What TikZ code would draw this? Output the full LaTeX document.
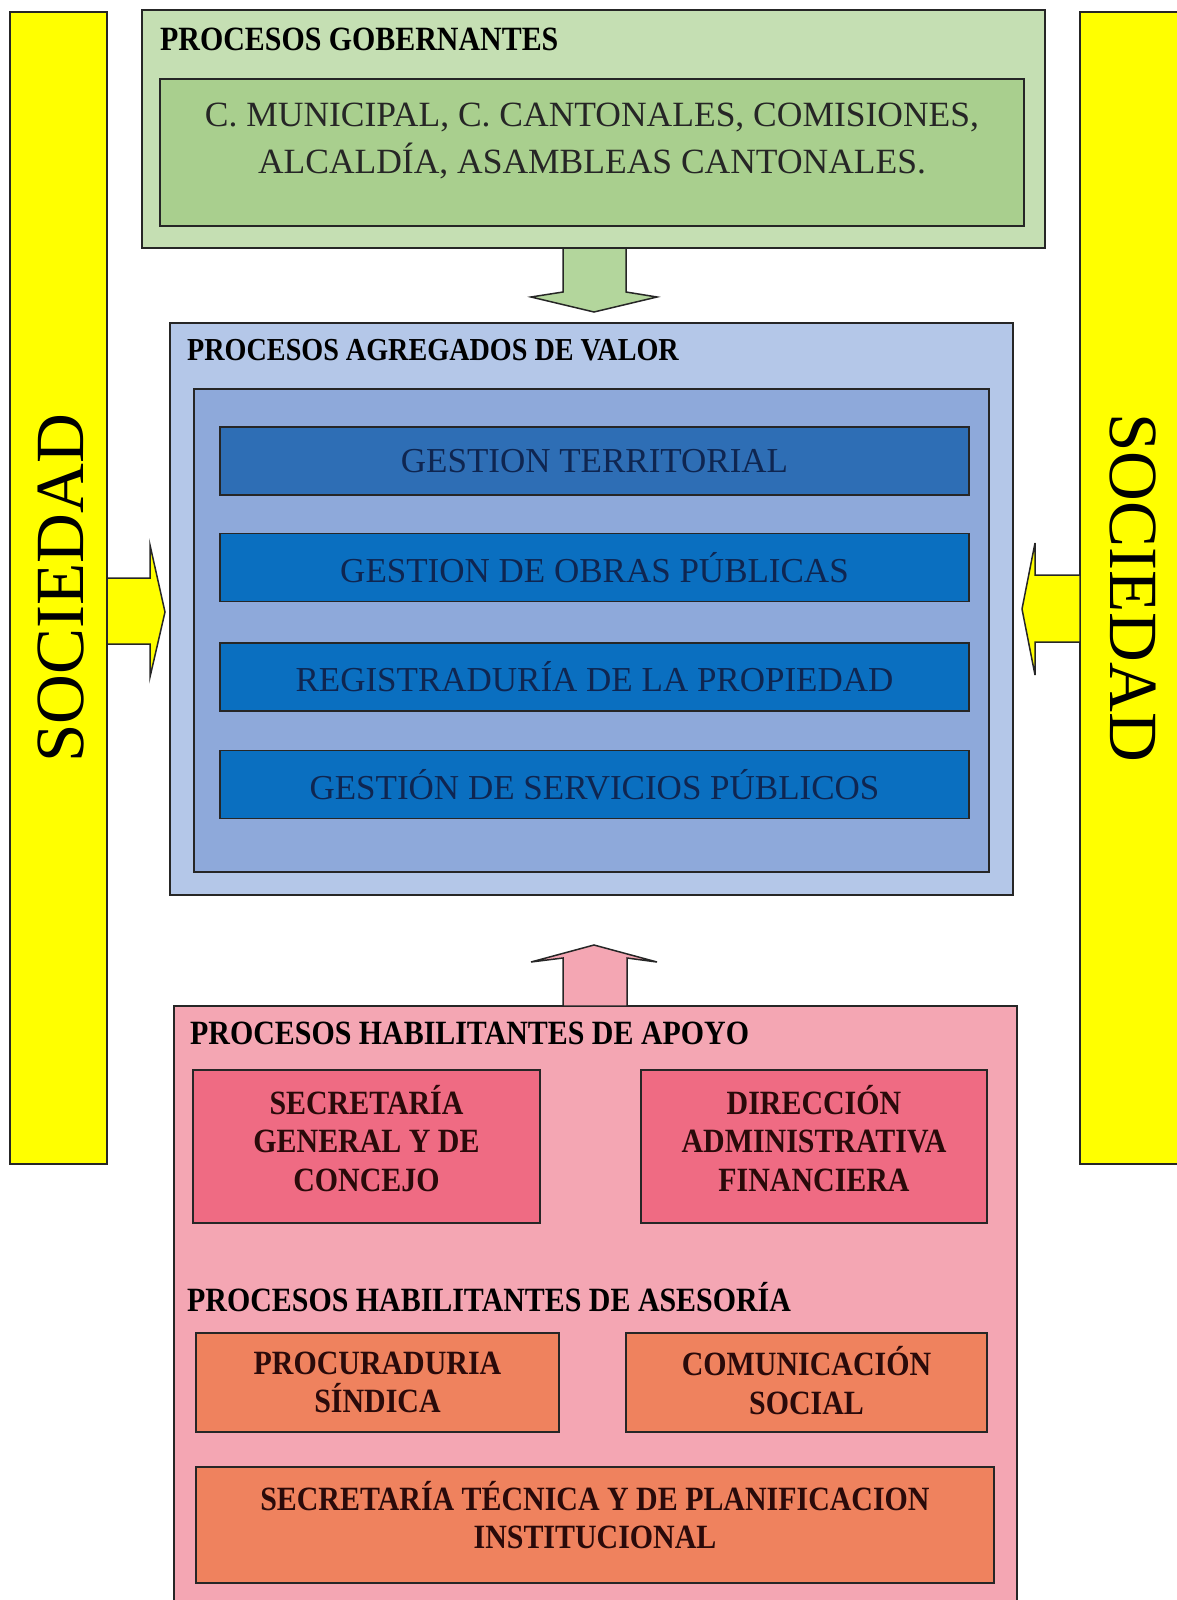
\documentclass[tikz,border=0pt]{standalone}
\usepackage{fontspec}
\setmainfont{Liberation Serif}[BoldFeatures={FakeStretch=0.88}]
\usetikzlibrary{calc}
\definecolor{amarillo}{HTML}{FFFF00}
\definecolor{verdeext}{HTML}{C5DFB3}
\definecolor{verdeint}{HTML}{A9CF8E}
\definecolor{verdeflecha}{HTML}{B3D69C}
\definecolor{azulext}{HTML}{B4C7E8}
\definecolor{azulint}{HTML}{8EA9DA}
\definecolor{azulbarra}{HTML}{0A6FC0}
\definecolor{azulbarrauno}{HTML}{2E6EB5}
\definecolor{textoazul}{HTML}{0F2651}
\definecolor{rosaext}{HTML}{F4A6B3}
\definecolor{rosacaja}{HTML}{EF6B83}
\definecolor{naranja}{HTML}{EF825E}
\definecolor{textorojo}{HTML}{2A0A0A}
\def\letra#1#2{\fontsize{#1}{#2}\selectfont}
\tikzset{
	frame/.style={draw=black!85, line width=1.8pt},
	caja/.style={frame, rectangle, inner sep=0pt, align=center},
	titulo/.style={anchor=west, inner sep=0pt, font=\bfseries\letra{34}{38}},
	barra/.style={caja, fill=azulbarra, minimum width=749pt, minimum height=68pt, text=textoazul, font=\letra{35}{40}},
	cajatxt/.style={inner sep=0pt, align=center, text=textorojo, font=\bfseries\letra{34}{38.5}},
	flecha/.style={draw=black!85, line width=1.5pt, line join=miter},
}

\begin{document}
\begin{tikzpicture}[x=1pt, y=-1pt]
			%%%%% START %%%%%
			\useasboundingbox (0,0) rectangle (1177,1600);
			\clip (0,0) rectangle (1177,1600);
			
			% SOCIEDAD a los lados
			\node[caja, fill=amarillo, minimum width=97pt, minimum height=1152pt] (socizq) at (58.5,588) {};
			\node[rotate=90, inner sep=0pt, font=\letra{69}{80}] (socizqtxt) at (61,588) {SOCIEDAD};
			\node[caja, fill=amarillo, minimum width=110pt, minimum height=1152pt] (socder) at (1135,588) {};
			\node[rotate=-90, inner sep=0pt, font=\letra{69}{80}] (socdertxt) at (1133,588) {SOCIEDAD};
			
			% gobernantes
			\node[caja, fill=verdeext, minimum width=903pt, minimum height=238pt] (gob) at (593.5,129) {};
			\node[titulo] (gobtit) at (160,39) {PROCESOS GOBERNANTES};
			\node[caja, fill=verdeint, minimum width=864pt, minimum height=147pt] (gobin) at (592,152.5) {};
			\node[inner sep=0pt, align=center, text=black!85, font=\letra{35.5}{47}] (gobtxt) at (592,141) {C. MUNICIPAL, C. CANTONALES, COMISIONES,\\ALCALDÍA, ASAMBLEAS CANTONALES.};
			
			% agregados de valor
			\node[caja, fill=azulext, minimum width=843pt, minimum height=572pt] (val) at (591.5,609) {};
			\node[titulo, font=\bfseries\letra{32}{36}] (valtit) at (187,350) {PROCESOS AGREGADOS DE VALOR};
			\node[caja, fill=azulint, minimum width=795pt, minimum height=483pt] (valin) at (591.5,630.5) {};
			\node[barra, fill=azulbarrauno] (territorial) at (594.5,461) {GESTION TERRITORIAL};
			\node[barra] (obras) at (594.5,567.5) {GESTION DE OBRAS PÚBLICAS};
			\node[barra] (registro) at (594.5,677) {REGISTRADURÍA DE LA PROPIEDAD};
			\node[barra] (servicios) at (594.5,784.5) {GESTIÓN DE SERVICIOS PÚBLICOS};
			
			% habilitantes
			\node[caja, fill=rosaext, minimum width=843pt, minimum height=614pt] (hab) at (595.5,1313) {};
			\node[titulo] (apoyotit) at (190,1033) {PROCESOS HABILITANTES DE APOYO};
			\node[caja, fill=rosacaja, minimum width=347pt, minimum height=153pt] (secretaria) at (366.5,1146.5) {};
			\node[cajatxt] (secretariatxt) at ($(secretaria)+(0,-8)$) {SECRETARÍA\\GENERAL Y DE\\CONCEJO};
			\node[caja, fill=rosacaja, minimum width=346pt, minimum height=153pt] (direccion) at (814,1146.5) {};
			\node[cajatxt] (direcciontxt) at ($(direccion)+(0,-8)$) {DIRECCIÓN\\ADMINISTRATIVA\\FINANCIERA};
			\node[titulo] (asesoriatit) at (187,1297) {PROCESOS HABILITANTES DE ASESORÍA};
			\node[caja, fill=naranja, minimum width=363pt, minimum height=99pt] (procuraduria) at (377.5,1382.5) {};
			\node[cajatxt] (procuraduriatxt) at (procuraduria) {PROCURADURIA\\SÍNDICA};
			\node[caja, fill=naranja, minimum width=361pt, minimum height=99pt] (comunicacion) at (806.5,1382.5) {};
			\node[cajatxt] (comunicaciontxt) at ($(comunicacion)+(0,-2)$) {COMUNICACIÓN\\SOCIAL};
			\node[caja, fill=naranja, minimum width=798pt, minimum height=116pt] (planificacion) at (595,1525) {};
			\node[cajatxt] (planificaciontxt) at ($(planificacion)+(0,-10)$) {SECRETARÍA TÉCNICA Y DE PLANIFICACION\\INSTITUCIONAL};
			
			% flechas
			\draw[flecha, fill=verdeflecha] (563,248) -- (563,292) -- (531,297) -- (594,312) -- (657,297) -- (626,292) -- (626,248) -- cycle;
			\draw[flecha, fill=rosaext] (563,1006) -- (563,958) -- (531,962) -- (594,945) -- (657,962) -- (627,958) -- (627,1006) -- cycle;
			\draw[flecha, fill=amarillo] (107,578) -- (150,578) -- (150,545) -- (165,612) -- (150,677) -- (150,644) -- (107,644) -- cycle;
			\draw[flecha, fill=amarillo] (1080,575) -- (1035,575) -- (1035,543) -- (1022,609) -- (1035,675) -- (1035,642) -- (1080,642) -- cycle;
			
			%%%%% END %%%%%
\end{tikzpicture}
\end{document}
